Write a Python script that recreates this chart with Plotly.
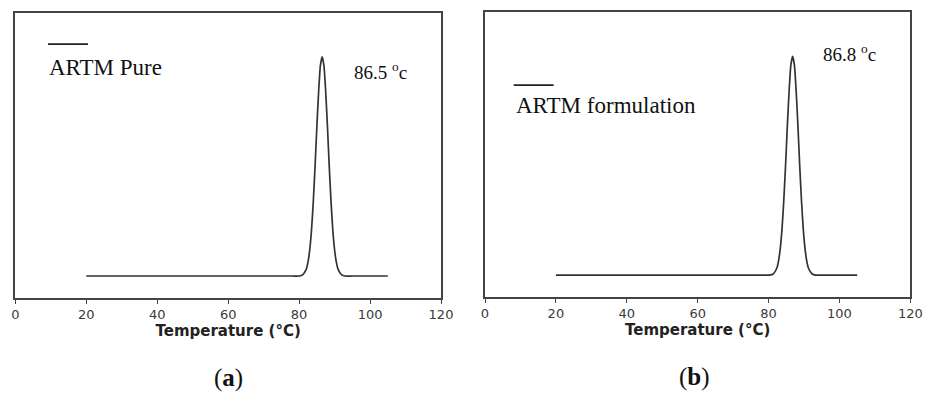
import plotly.graph_objects as go

# Panel (a): ARTM Pure, peak 86.5 °C
temp_a = [20, 40, 60, 78, 80, 81, 82, 82.5, 83, 83.5, 84, 84.5, 85, 85.5, 86, 86.5, 87, 87.5, 88, 88.5, 89, 89.5, 90, 90.5, 91, 92, 93, 95, 105]
heat_a = [0, 0, 0, 0, 0, 0.005, 0.03, 0.063, 0.12, 0.21, 0.34, 0.50, 0.68, 0.84, 0.96, 1.0, 0.96, 0.84, 0.68, 0.50, 0.34, 0.21, 0.12, 0.063, 0.03, 0.005, 0, 0, 0]

# Panel (b): ARTM formulation, peak 86.8 °C
temp_b = [20, 40, 60, 78, 80.3, 81.3, 82.3, 82.8, 83.3, 83.8, 84.3, 84.8, 85.3, 85.8, 86.3, 86.8, 87.3, 87.8, 88.3, 88.8, 89.3, 89.8, 90.3, 90.8, 91.3, 92.3, 93.3, 95, 105]
heat_b = [0, 0, 0, 0, 0, 0.005, 0.03, 0.063, 0.12, 0.21, 0.34, 0.50, 0.68, 0.84, 0.96, 1.0, 0.96, 0.84, 0.68, 0.50, 0.34, 0.21, 0.12, 0.063, 0.03, 0.005, 0, 0, 0]

x_ticks = [0, 20, 40, 60, 80, 100, 120]
x_title = "Temperature (°C)"
legend_a = "ARTM Pure"
legend_b = "ARTM formulation"
peak_a = "86.5 <sup>o</sup>c"
peak_b = "86.8 <sup>o</sup>c"
captions = ["(<b>a</b>)", "(<b>b</b>)"]

LINE = "#333333"
FRAME = "#444444"
SERIF = "Liberation Serif, Times New Roman, serif"
SANS = "DejaVu Sans, sans-serif"

fig = go.Figure()
fig.add_trace(go.Scatter(x=temp_a, y=heat_a, mode="lines", line=dict(color=LINE, width=1.7, shape="spline", smoothing=0.5),
                         xaxis="x", yaxis="y", showlegend=False, hoverinfo="skip"))
fig.add_trace(go.Scatter(x=temp_b, y=heat_b, mode="lines", line=dict(color=LINE, width=1.7, shape="spline", smoothing=0.5),
                         xaxis="x2", yaxis="y2", showlegend=False, hoverinfo="skip"))

xcommon = dict(range=[0, 120], tickvals=x_ticks, ticks="outside", ticklen=4, tickwidth=1.2, tickcolor=FRAME,
               showline=True, linecolor=FRAME, linewidth=1.7, mirror=True, showgrid=False, zeroline=False,
               automargin=False,
               tickfont=dict(family=SANS, size=13, color="#3a3a3a"),
               title=dict(text="<b>" + x_title + "</b>", font=dict(family=SANS, size=15, color="#222222"), standoff=0))
ycommon = dict(range=[-0.099, 1.202], showticklabels=False, ticks="", showline=True, linecolor=FRAME,
               linewidth=1.7, mirror=True, showgrid=False, zeroline=False, automargin=False)

fig.update_layout(
    width=933, height=400,
    margin=dict(l=0, r=0, t=0, b=0, autoexpand=False),
    paper_bgcolor="white", plot_bgcolor="white",
    xaxis=dict(domain=[15.3/933, 441/933], anchor="y", **xcommon),
    yaxis=dict(domain=[1-297.7/400, 1-12.7/400], anchor="x", **ycommon),
    xaxis2=dict(domain=[485/933, 910.3/933], anchor="y2", **xcommon),
    yaxis2=dict(domain=[1-296.7/400, 1-12.3/400], anchor="x2", **ycommon),
)

# legend-style marker lines
fig.add_shape(type="line", xref="x domain", yref="y domain", x0=0.0768, x1=0.1708, y0=0.890, y1=0.890,
              line=dict(color="#222222", width=1.8))
fig.add_shape(type="line", xref="x2 domain", yref="y2 domain", x0=0.0674, x1=0.1614, y0=0.744, y1=0.744,
              line=dict(color="#222222", width=1.8))

ann = []
ann.append(dict(xref="x domain", yref="y domain", x=0.0744, y=0.806, text=legend_a, showarrow=False,
                xanchor="left", yanchor="middle", font=dict(family=SERIF, size=23, color="#111111")))
ann.append(dict(xref="x2 domain", yref="y2 domain", x=0.0674, y=0.674, text=legend_b, showarrow=False,
                xanchor="left", yanchor="middle", font=dict(family=SERIF, size=23, color="#111111")))
ann.append(dict(xref="x domain", yref="y domain", x=0.791, y=0.795, text=peak_a, showarrow=False,
                xanchor="left", yanchor="middle", font=dict(family=SERIF, size=19, color="#111111")))
ann.append(dict(xref="x2 domain", yref="y2 domain", x=0.790, y=0.856, text=peak_b, showarrow=False,
                xanchor="left", yanchor="middle", font=dict(family=SERIF, size=19, color="#111111")))
ann.append(dict(xref="paper", yref="paper", x=228/933, y=1-378/400, text=captions[0], showarrow=False,
                xanchor="center", yanchor="middle", font=dict(family=SERIF, size=25, color="#111111")))
ann.append(dict(xref="paper", yref="paper", x=694/933, y=1-377/400, text=captions[1], showarrow=False,
                xanchor="center", yanchor="middle", font=dict(family=SERIF, size=25, color="#111111")))
fig.update_layout(annotations=ann)

fig.write_html("out.html", config={"displayModeBar": False},
               post_script="document.body.style.margin='0px';document.body.style.padding='0px';")
